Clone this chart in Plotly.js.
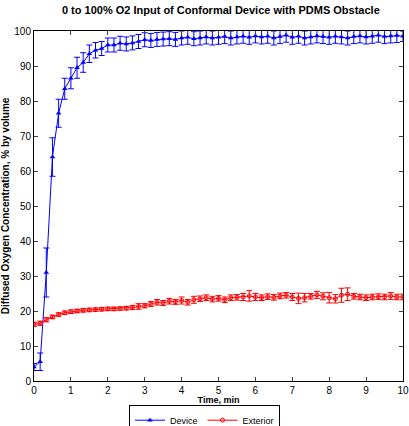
<!DOCTYPE html>
<html>
<head>
<meta charset="utf-8">
<script src="https://cdn.plot.ly/plotly-3.0.1.min.js"></script>
<style>html,body{margin:0;padding:0;background:#fff;}#chart{width:409px;height:426px;}</style>
</head>
<body>
<div id="chart"></div>
<script>
var timeMin = [0,0.167,0.333,0.5,0.667,0.833,1,1.167,1.333,1.5,1.667,1.833,2,2.167,2.333,2.5,2.667,2.833,3,3.167,3.333,3.5,3.667,3.833,4,4.167,4.333,4.5,4.667,4.833,5,5.167,5.333,5.5,5.667,5.833,6,6.167,6.333,6.5,6.667,6.833,7,7.167,7.333,7.5,7.667,7.833,8,8.167,8.333,8.5,8.667,8.833,9,9.167,9.333,9.5,9.667,9.833,10];
var deviceVals = [4,5.5,31,64,76.5,83.5,86.5,89.5,91,93.5,94.5,95,96,96,96.5,96.3,96.6,97,97.5,97.3,97.6,97.7,97.8,97.6,98,98.2,97.8,98,98.3,98,98.2,98.4,98,98.3,98.5,98.2,98.6,98.3,98.5,98,98.4,98.8,98.2,98.5,98,98.3,98.6,98.4,98.2,98.5,98.3,98,98.4,98.6,98.3,98.5,98.8,98.4,98.6,98.7,98.5];
var deviceErr = [1,2.5,7,5.5,4,3,3,3,2.8,2.5,2.2,2,2,2,2,2,2,2,2,2,2,2,2,2,2,2,2,2,2,2,2,2,2,2,2,2,2,2,2,2,2,2,2,2,2,2,2,2,2,2,2,2,2,2,2,2,2,2,2,2,1.5];
var exteriorVals = [16.2,16.5,17.5,18.3,19,19.5,19.8,20,20.2,20.3,20.4,20.5,20.6,20.6,20.7,20.8,21,21.3,21.5,22,22.5,22.3,22.8,22.6,23,22.5,23.2,23.5,23.8,23.4,23.6,23.2,23.8,23.9,24,24.3,24,23.8,24.1,23.9,24.3,24.5,24,23.6,23.8,24.2,24.6,24.2,23.8,23.5,24.5,24.8,24.2,24,23.8,24,24.1,24,24.3,24,24];
var exteriorErr = [0.6,0.6,0.6,0.5,0.5,0.5,0.5,0.5,0.5,0.5,0.5,0.5,0.5,0.5,0.5,0.5,0.6,0.8,0.6,0.7,0.8,0.7,0.8,0.7,1,0.8,1,0.8,0.8,0.8,0.8,0.8,0.8,0.8,1,1.5,1,0.8,0.8,0.8,0.8,0.8,1,1.5,1.2,0.8,1,1,1.5,1.2,2,1.8,0.8,0.8,0.8,0.8,0.8,0.8,1,0.8,0.8];
var legendNames = ["Device","Exterior"];

var fnt = "Liberation Sans Narrow, Arial Narrow, Liberation Sans, Arial, sans-serif";
var traces = [
  {x: timeMin, y: deviceVals, name: legendNames[0], type: "scatter", mode: "lines+markers",
   line: {color: "#0000ff", width: 1},
   marker: {symbol: "triangle-up", size: 5, color: "#0000ff"},
   error_y: {type: "data", array: deviceErr, visible: true, color: "#0000ff", thickness: 1, width: 3}},
  {x: timeMin, y: exteriorVals, name: legendNames[1], type: "scatter", mode: "lines+markers",
   line: {color: "#ff0000", width: 1},
   marker: {symbol: "circle-open", size: 4, color: "#ff0000", line: {width: 1}},
   error_y: {type: "data", array: exteriorErr, visible: true, color: "#ff0000", thickness: 1, width: 3}}
];
var layout = {
  width: 409, height: 426,
  margin: {l: 34, r: 6, t: 31, b: 45},
  paper_bgcolor: "#fff", plot_bgcolor: "#fff",
  font: {family: fnt, size: 10, color: "#000"},
  title: {text: "<b>0 to 100% O2 Input of Conformal Device with PDMS Obstacle</b>", font: {family: fnt, size: 11, color: "#000"}, x: 0.54, xanchor: "center", y: 0.985, yanchor: "top"},
  xaxis: {range: [0, 10], dtick: 1, tick0: 0, ticks: "inside", ticklen: 4, mirror: "ticks", showline: true, linecolor: "#000", linewidth: 1, showgrid: false, zeroline: false, automargin: false,
    ticklabeloverflow: "allow",
    tickfont: {family: fnt, size: 10}, title: {text: "<b>Time, min</b>", font: {family: fnt, size: 9}, standoff: 4}},
  yaxis: {range: [0, 100], dtick: 10, tick0: 0, ticks: "inside", ticklen: 4, mirror: "ticks", showline: true, linecolor: "#000", linewidth: 1, showgrid: false, zeroline: false, automargin: false,
    tickfont: {family: fnt, size: 10}, title: {text: "<b>Diffused Oxygen Concentration, % by volume</b>", font: {family: "Liberation Sans, Arial, sans-serif", size: 10}, standoff: 4}},
  showlegend: true,
  legend: {orientation: "h", x: 0.5, xanchor: "center", xref: "container", y: 0.05, yanchor: "top", yref: "container", bordercolor: "#000", borderwidth: 1, bgcolor: "#fff",
    font: {family: fnt, size: 9}, itemwidth: 30, tracegroupgap: 0}
};
Plotly.newPlot("chart", traces, layout, {staticPlot: true, displayModeBar: false});
</script>
</body>
</html>
